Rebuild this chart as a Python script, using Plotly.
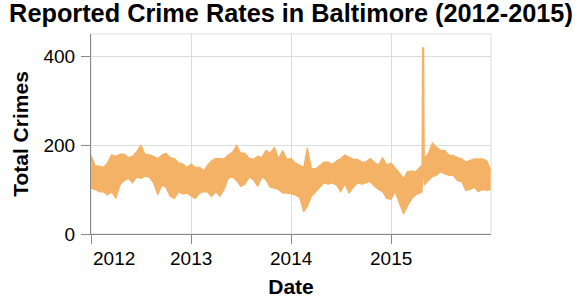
import plotly.graph_objects as go

# ---- data (half-monthly envelope of daily counts) ----
years_regular = [2012, 2013, 2014]
upper_2012 = [177,154,152,150,160,178,175,180,180,172,175,185,200,180,178,175,170,178,182,172,170,160,158,150]
lower_2012 = [103,100,95,95,88,95,80,110,120,125,115,128,125,130,128,115,88,110,105,85,80,95,90,92]
upper_2013 = [157,150,150,142,154,165,170,169,169,178,184,199,182,182,170,168,175,172,188,182,195,170,188,168]
lower_2013 = [85,80,92,95,95,84,95,85,100,125,128,120,107,112,128,122,107,128,122,105,103,100,92,92]
upper_2014 = [170,160,154,150,194,147,147,154,162,162,157,165,170,178,172,168,168,162,162,170,162,155,172,155]
lower_2014 = [90,88,82,50,62,85,95,105,115,112,115,110,95,112,92,105,115,112,115,118,108,100,95,80]

dates_2015 = ["2015-01-01","2015-01-16","2015-02-01","2015-02-16","2015-03-01","2015-03-16",
              "2015-04-01","2015-04-16","2015-04-24","2015-04-26","2015-04-30","2015-05-02",
              "2015-05-16","2015-06-01","2015-06-16","2015-07-01","2015-07-16","2015-08-01",
              "2015-08-16","2015-09-01","2015-09-16","2015-10-01","2015-10-16","2015-11-01",
              "2015-11-16","2015-12-01","2015-12-16","2015-12-31"]
upper_2015 = [160,150,137,125,140,142,140,150,155,419,419,170,
              180,205,195,188,188,177,177,172,169,162,165,169,169,169,165,145]
lower_2015 = [78,95,68,45,62,78,88,92,95,130,130,110,
              118,129,132,140,135,132,132,120,118,98,100,105,95,100,98,100]

year_ticks = ["2012-01-01", "2013-01-01", "2014-01-01", "2015-01-01"]
year_labels = ["2012", "2013", "2014", "2015"]
y_ticks = [0, 200, 400]

# ---- assemble ----
dates = []
for y in years_regular:
    for m in range(1, 13):
        dates.append(f"{y}-{m:02d}-01")
        dates.append(f"{y}-{m:02d}-16")
dates += dates_2015
upper = upper_2012 + upper_2013 + upper_2014 + upper_2015
lower = lower_2012 + lower_2013 + lower_2014 + lower_2015

COLOR = "#F4B266"
FONT = "Liberation Sans, Arial, Helvetica, sans-serif"

fig = go.Figure()
fig.add_trace(go.Scatter(x=dates, y=lower, mode="lines",
                         line=dict(color=COLOR, width=1.2), hoverinfo="skip", showlegend=False))
fig.add_trace(go.Scatter(x=dates, y=upper, mode="lines", fill="tonexty", fillcolor=COLOR,
                         line=dict(color=COLOR, width=1.2), showlegend=False))

# x tick labels (first one flush-left like the reference)
for i, (d, lab) in enumerate(zip(year_ticks, year_labels)):
    fig.add_annotation(x=d, y=0, xref="x", yref="paper", text=lab, showarrow=False,
                       xanchor="left" if i == 0 else "center", yanchor="top", yshift=-12,
                       font=dict(family=FONT, size=19, color="#000"))

# view border (light) on top/right
fig.add_shape(type="rect", xref="paper", yref="paper", x0=0, x1=1, y0=0, y1=1,
              line=dict(color="#dddddd", width=1), layer="below")

fig.update_layout(
    width=580, height=300,
    margin=dict(l=91, r=89, t=34, b=66, pad=0, autoexpand=False),
    paper_bgcolor="white", plot_bgcolor="white",
    font=dict(family=FONT, color="#000"),
    title=dict(text="<b>Reported Crime Rates in Baltimore (2012-2015)</b>",
               x=0.5, xref="paper", xanchor="center",
               y=0.956, yref="container", yanchor="middle",
               font=dict(family=FONT, size=25.3, color="#000")),
    xaxis=dict(type="date", range=["2012-01-01", "2016-01-01"], automargin=False,
               tickvals=year_ticks, showticklabels=False,
               ticks="outside", ticklen=9, tickcolor="#888", tickwidth=1,
               showgrid=True, gridcolor="#dddddd", gridwidth=1,
               showline=True, linecolor="#888", linewidth=1, zeroline=False,
               title=dict(text="<b>Date</b>", standoff=36,
                          font=dict(family=FONT, size=21, color="#000"))),
    yaxis=dict(range=[0, 450], tickvals=y_ticks, automargin=False,
               ticks="outside", ticklen=9, tickcolor="#888", tickwidth=1,
               ticklabelstandoff=2,
               tickfont=dict(family=FONT, size=19, color="#000"),
               showgrid=True, gridcolor="#dddddd", gridwidth=1,
               showline=True, linecolor="#888", linewidth=1, zeroline=False,
               title=dict(text="<b>Total Crimes</b>", standoff=9,
                          font=dict(family=FONT, size=21, color="#000"))),
)

fig.write_html("out.html", config={"displayModeBar": False},
               post_script="document.body.style.margin='0';")
